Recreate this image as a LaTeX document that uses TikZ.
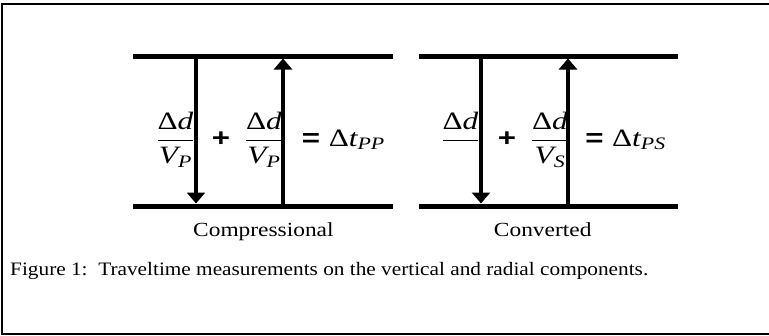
\documentclass[tikz,border=0pt]{standalone}
\usepackage{amsmath}
\usepackage{fontspec}
\setmainfont{Liberation Serif}
\newfontfamily\opsfont{Liberation Sans}
\usetikzlibrary{arrows.meta}

\tikzset{
  layer/.style={line width=5pt},
  ray/.style={line width=3.5pt,-{Triangle[width=18pt,length=11pt]}},
  eqn/.style={inner sep=0pt,anchor=base,font=\fontsize{25}{30}\selectfont,xscale=1.25,transform shape},
  lbl/.style={inner sep=0pt,anchor=base,font=\fontsize{20}{24}\selectfont,xscale=1.17,transform shape},
  captext/.style={inner sep=0pt,anchor=base west,font=\fontsize{19}{23}\selectfont,xscale=1.12,transform shape},
}
\newcommand{\Dd}{\text{Δ\itshape d}}
\newcommand{\Vel}[1]{\text{\itshape V}_{\text{\itshape #1}}}
\newcommand{\Dt}[1]{\text{Δ\itshape t}_{\text{\itshape #1}}}
\newcommand{\tplus}{\mathbin{\text{\opsfont\bfseries +}}}
\newcommand{\teq}{\mathrel{\text{\opsfont\bfseries =}}}

\begin{document}
\begin{tikzpicture}[x=1pt,y=-1pt]
\useasboundingbox (0,0) rectangle (769,335);
% frame, open on the right
\draw[line width=2pt] (769,4.3) -- (2,4.3) -- (2,334) -- (769,334);

% Compressional
\draw[layer] (133,56) -- (393,56);
\draw[layer] (133,206) -- (393,206);
\coordinate (pdownA) at (196,56);
\coordinate (pdownB) at (196,203.5);
\coordinate (pupA) at (283,206);
\coordinate (pupB) at (283,58.5);
\draw[ray] (pdownA) -- (pdownB);
\draw[ray] (pupA) -- (pupB);
\node[eqn] (fracPa) at (175.5,146.25) {$\dfrac{\Dd}{\Vel{P}}$};
\node[eqn] (plusP) at (221,146.25) {$\tplus$};
\node[eqn] (fracPb) at (264,146.25) {$\dfrac{\Dd}{\Vel{P}}$};
\node[eqn,anchor=base west] (sumP) at (301.7,146.25) {$\teq\Dt{PP}$};
\node[lbl] (labP) at (263.4,236.7) {Compressional};

% Converted
\draw[layer] (419,56) -- (678,56);
\draw[layer] (419,206) -- (678,206);
\coordinate (sdownA) at (481,56);
\coordinate (sdownB) at (481,203.5);
\coordinate (supA) at (568,206);
\coordinate (supB) at (568,58.5);
\draw[ray] (sdownA) -- (sdownB);
\draw[ray] (supA) -- (supB);
\node[eqn] (fracSa) at (460.5,146.25) {$\dfrac{\Dd}{}$};
\node[eqn] (plusS) at (507,146.25) {$\tplus$};
\node[eqn] (fracSb) at (550,146.25) {$\dfrac{\Dd}{\Vel{S}}$};
\node[eqn,anchor=base west] (sumS) at (585,146.25) {$\teq\Dt{PS}$};
\node[lbl] (labS) at (542.7,236.7) {Converted};

\node[captext] (caption) at (10,275.7) {Figure 1:\ \ Traveltime measurements on the vertical and radial components.};
\end{tikzpicture}
\end{document}
